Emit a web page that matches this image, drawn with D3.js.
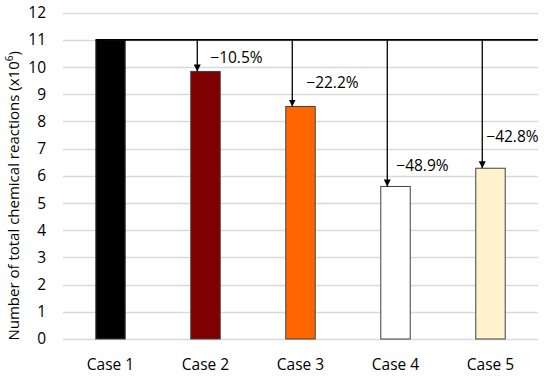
<!DOCTYPE html>
<html>
<head>
<meta charset="utf-8">
<script src="https://cdn.jsdelivr.net/npm/d3@7"></script>
<style>
  html, body { margin: 0; padding: 0; background: #fff; }
  text { font-family: "Open Sans", "Liberation Sans", sans-serif; fill: #000; }
</style>
</head>
<body>
<svg id="chart" width="550" height="379"></svg>
<script>
// ---- data ----
const categories = ["Case 1", "Case 2", "Case 3", "Case 4", "Case 5"];
const values = [11, 9.84, 8.55, 5.61, 6.28];
const reductionLabels = ["", "\u221210.5%", "\u221222.2%", "\u221248.9%", "\u221242.8%"];
const yTicks = [0, 1, 2, 3, 4, 5, 6, 7, 8, 9, 10, 11, 12];
const baselineValue = 11;
const yTitle = "Number of total chemical reactions (x10";

// ---- styles ----
const barColors = ["#000000", "#7f0000", "#ff6600", "#ffffff", "#fff2cc"];
// label offsets (px) relative to arrow x and bar top
const labelDx = [0, 13, 14, 9, 4];
const labelDy = [0, -13, -23, -20, -30];

const svg = d3.select("#chart");
const margin = { left: 63 };
const y0 = 339, y12 = 12.7;
const FS = "15.5px";

const x = d3.scaleBand().domain(categories).range([margin.left, 538]).paddingInner(0.69).paddingOuter(0.345);
const y = d3.scaleLinear().domain([0, 12]).range([y0, y12]);

// gridlines
svg.append("g").selectAll("line").data(yTicks).join("line")
  .attr("x1", margin.left).attr("x2", 538)
  .attr("y1", d => Math.round(y(d)) + 0.5).attr("y2", d => Math.round(y(d)) + 0.5)
  .attr("stroke", "#d9d9d9").attr("stroke-width", 1.3);

// y axis labels
const yAxis = d3.axisLeft(y).tickValues(yTicks).tickSize(0).tickPadding(17);
const gy = svg.append("g").attr("transform", `translate(${margin.left},0)`).call(yAxis);
gy.select(".domain").remove();
gy.selectAll("text").style("font-size", FS).style("font-family", "Open Sans, sans-serif").attr("fill", "#000");

// x axis labels
const xAxis = d3.axisBottom(x).tickSize(0).tickPadding(20);
const gx = svg.append("g").attr("transform", `translate(0,${y0})`).call(xAxis);
gx.select(".domain").remove();
gx.selectAll("text").style("font-size", FS).style("font-family", "Open Sans, sans-serif").attr("fill", "#000");

// bars
svg.append("g").selectAll("rect").data(categories).join("rect")
  .attr("x", d => x(d))
  .attr("y", (d, i) => y(values[i]))
  .attr("width", x.bandwidth())
  .attr("height", (d, i) => y(0) - y(values[i]))
  .attr("fill", (d, i) => barColors[i])
  .attr("stroke", "#404040").attr("stroke-width", 1);

// baseline line at 11
svg.append("line")
  .attr("x1", x(categories[0])).attr("x2", 538)
  .attr("y1", y(baselineValue)).attr("y2", y(baselineValue))
  .attr("stroke", "#000").attr("stroke-width", 1.8);

// arrow marker
svg.append("defs").append("marker")
  .attr("id", "arr").attr("viewBox", "0 0 10 10")
  .attr("refX", 10).attr("refY", 5)
  .attr("markerWidth", 7).attr("markerHeight", 7)
  .attr("markerUnits", "userSpaceOnUse")
  .attr("orient", "auto")
  .append("path").attr("d", "M0,0 L10,5 L0,10 Z").attr("fill", "#000");

const arrowX = d => x(d) + 6.5;
const arrows = categories.slice(1);
svg.append("g").selectAll("line").data(arrows).join("line")
  .attr("x1", d => arrowX(d)).attr("x2", d => arrowX(d))
  .attr("y1", y(baselineValue))
  .attr("y2", d => y(values[categories.indexOf(d)]))
  .attr("stroke", "#000").attr("stroke-width", 1.3)
  .attr("marker-end", "url(#arr)");

// reduction labels
svg.append("g").selectAll("text").data(arrows).join("text")
  .attr("x", d => arrowX(d) + labelDx[categories.indexOf(d)])
  .attr("y", d => y(values[categories.indexOf(d)]) + labelDy[categories.indexOf(d)])
  .attr("dominant-baseline", "middle")
  .style("font-size", FS)
  .text(d => reductionLabels[categories.indexOf(d)]);

// y title
const t = svg.append("text")
  .attr("transform", `translate(19,${(y0 + y12) / 2 + 20}) rotate(-90)`)
  .attr("text-anchor", "middle")
  .style("font-size", "15px");
t.append("tspan").text(yTitle);
t.append("tspan").attr("dy", -6).style("font-size", "10px").text("6");
t.append("tspan").attr("dy", 6).text(")");
</script>
</body>
</html>
